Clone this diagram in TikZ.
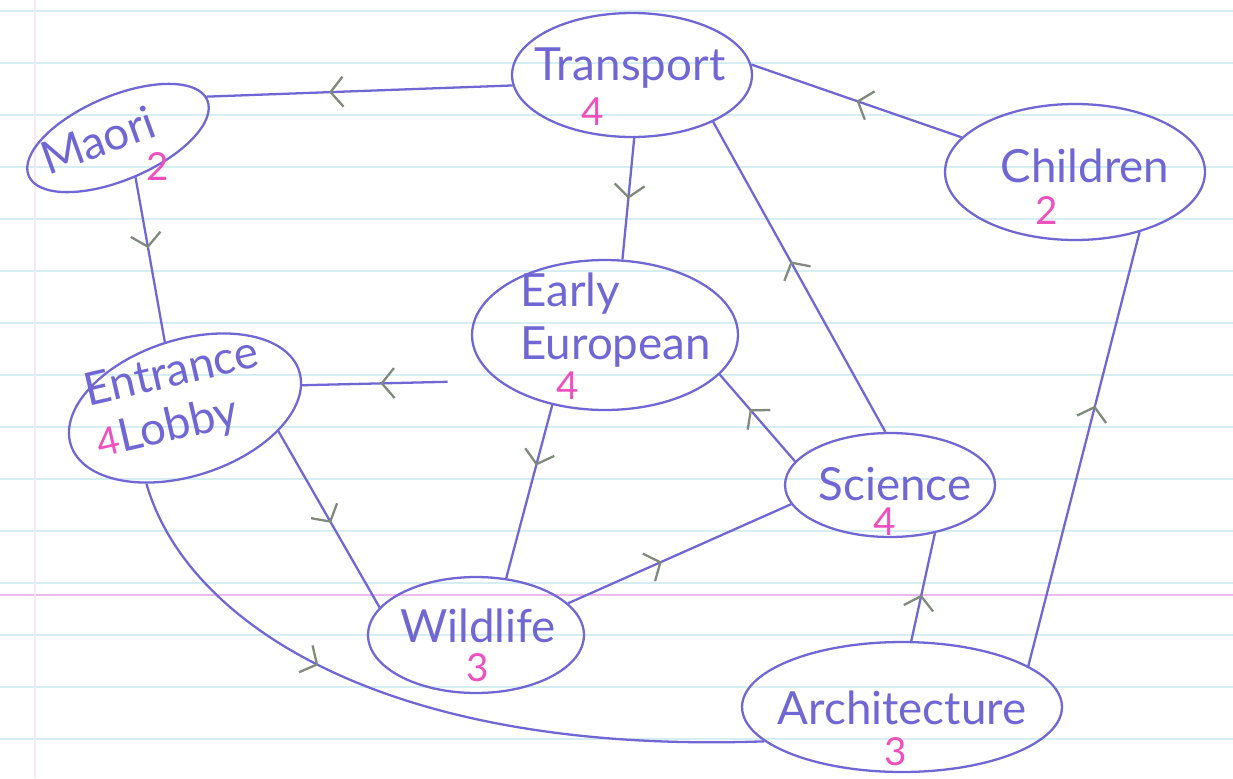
\documentclass[tikz,border=0pt]{standalone}
\usepackage{fontspec}
\setmainfont{Lato}
\usetikzlibrary{shapes.geometric,arrows.meta,decorations.markings}

\definecolor{pen}{RGB}{112,102,212}
\definecolor{tallypink}{RGB}{238,80,190}
\definecolor{chevgray}{RGB}{128,138,124}
\definecolor{ruling}{RGB}{212,238,244}
\definecolor{marginpink}{RGB}{236,186,236}

\newcommand{\tallyfont}{\color{tallypink}\fontsize{22}{24}\selectfont}

\tikzset{
  room/.style={ellipse, draw=pen, line width=1.3pt, inner sep=0pt},
  hand/.style={text=pen, inner sep=0pt, font=\fontsize{26}{30}\selectfont},
  tally/.style={text=tallypink, inner sep=0pt, font=\fontsize{22}{24}\selectfont},
  flow/.style={draw=pen, line width=1.3pt, postaction={decorate},
    decoration={markings, mark=at position #1 with
      {\arrow[chevgray, line width=1.3pt]{Straight Barb[length=2.5mm,width=6mm]}}}},
  flow/.default=0.5
}

\begin{document}
\begin{tikzpicture}[x=0.02cm, y=-0.02cm]
  \useasboundingbox (0,0) rectangle (1233,778);

  % Paper
  \fill[white] (0,0) rectangle (1233,778);
  \foreach \y in {11,63,...,739}
    \draw[ruling, line width=0.8pt] (0,\y) -- (1233,\y);
  \draw[marginpink, line width=0.8pt] (0,595) -- (1233,595);
  \draw[marginpink!35, line width=0.6pt] (35,0) -- (35,778);

  % Draw the rooms
  \node[room, minimum width=4.8cm, minimum height=2.48cm] (transport) at (632,75) {};
  \node[room, minimum width=3.88cm, minimum height=1.68cm, rotate=23] (maori) at (118,138) {};
  \node[room, minimum width=5.2cm, minimum height=2.72cm] (children) at (1075,172) {};
  \node[room, minimum width=5.32cm, minimum height=3cm] (early) at (605,335) {};
  \node[room, minimum width=4.8cm, minimum height=2.72cm, rotate=18] (entrance) at (185,408) {};
  \node[room, minimum width=4.2cm, minimum height=2.08cm] (science) at (890,485) {};
  \node[room, minimum width=4.32cm, minimum height=2.32cm] (wildlife) at (476,635) {};
  \node[room, minimum width=6.4cm, minimum height=2.6cm] (arch) at (902,707) {};

  % Room names and counts
  \node[hand] (transport-t) at (630,68) {Transport};
  \node[tally] (transport-n) at (593,112) {4};
  \node[hand, rotate=20] (maori-t) at (98,140) {Maori};
  \node[tally] (maori-n) at (158,166) {2};
  \node[hand] (children-t) at (1085,166) {Children};
  \node[tally] (children-n) at (1047,210) {2};
  \node[hand, align=left, anchor=west] (early-t) at (520,320) {Early\\European};
  \node[tally] (early-n) at (568,386) {4};
  \node[hand, align=left, rotate=13] (entrance-t) at (178,400)
    {Entrance\\{\tallyfont 4}Lobby};
  \node[hand] (science-t) at (895,484) {Science};
  \node[tally] (science-n) at (885,522) {4};
  \node[hand] (wildlife-t) at (478,626) {Wildlife};
  \node[tally] (wildlife-n) at (478,668) {3};
  \node[hand] (arch-t) at (902,708) {Architecture};
  \node[tally] (arch-n) at (896,752) {3};

  % Draw the walkways
  \draw[flow=0.6] (transport.185) -- (maori.2);
  \draw[flow] (children.163) -- (transport.5);
  \draw[flow] (transport.272) -- (early.77);
  \draw[flow=0.55] (science.95) -- (transport.330);
  \draw[flow=0.43] (maori.271) -- (entrance.89);
  \draw[flow=0.6, shorten <=1cm] (early.203) -- (entrance.353);
  \draw[flow=0.52] (entrance.328) -- (wildlife.164);
  \draw[flow=0.35] (early.233) -- (wildlife.62);
  \draw[flow=0.6] (science.166) -- (early.341);
  \draw[flow=0.42] (wildlife.19) -- (science.191);
  \draw[flow=0.43] (arch.82) -- (science.313);
  \draw[flow=0.6] (arch.18) -- (children.317);
  \draw[flow=0.36] (entrance.225) .. controls (185,620) and (380,755) .. (arch.194);
\end{tikzpicture}
\end{document}
